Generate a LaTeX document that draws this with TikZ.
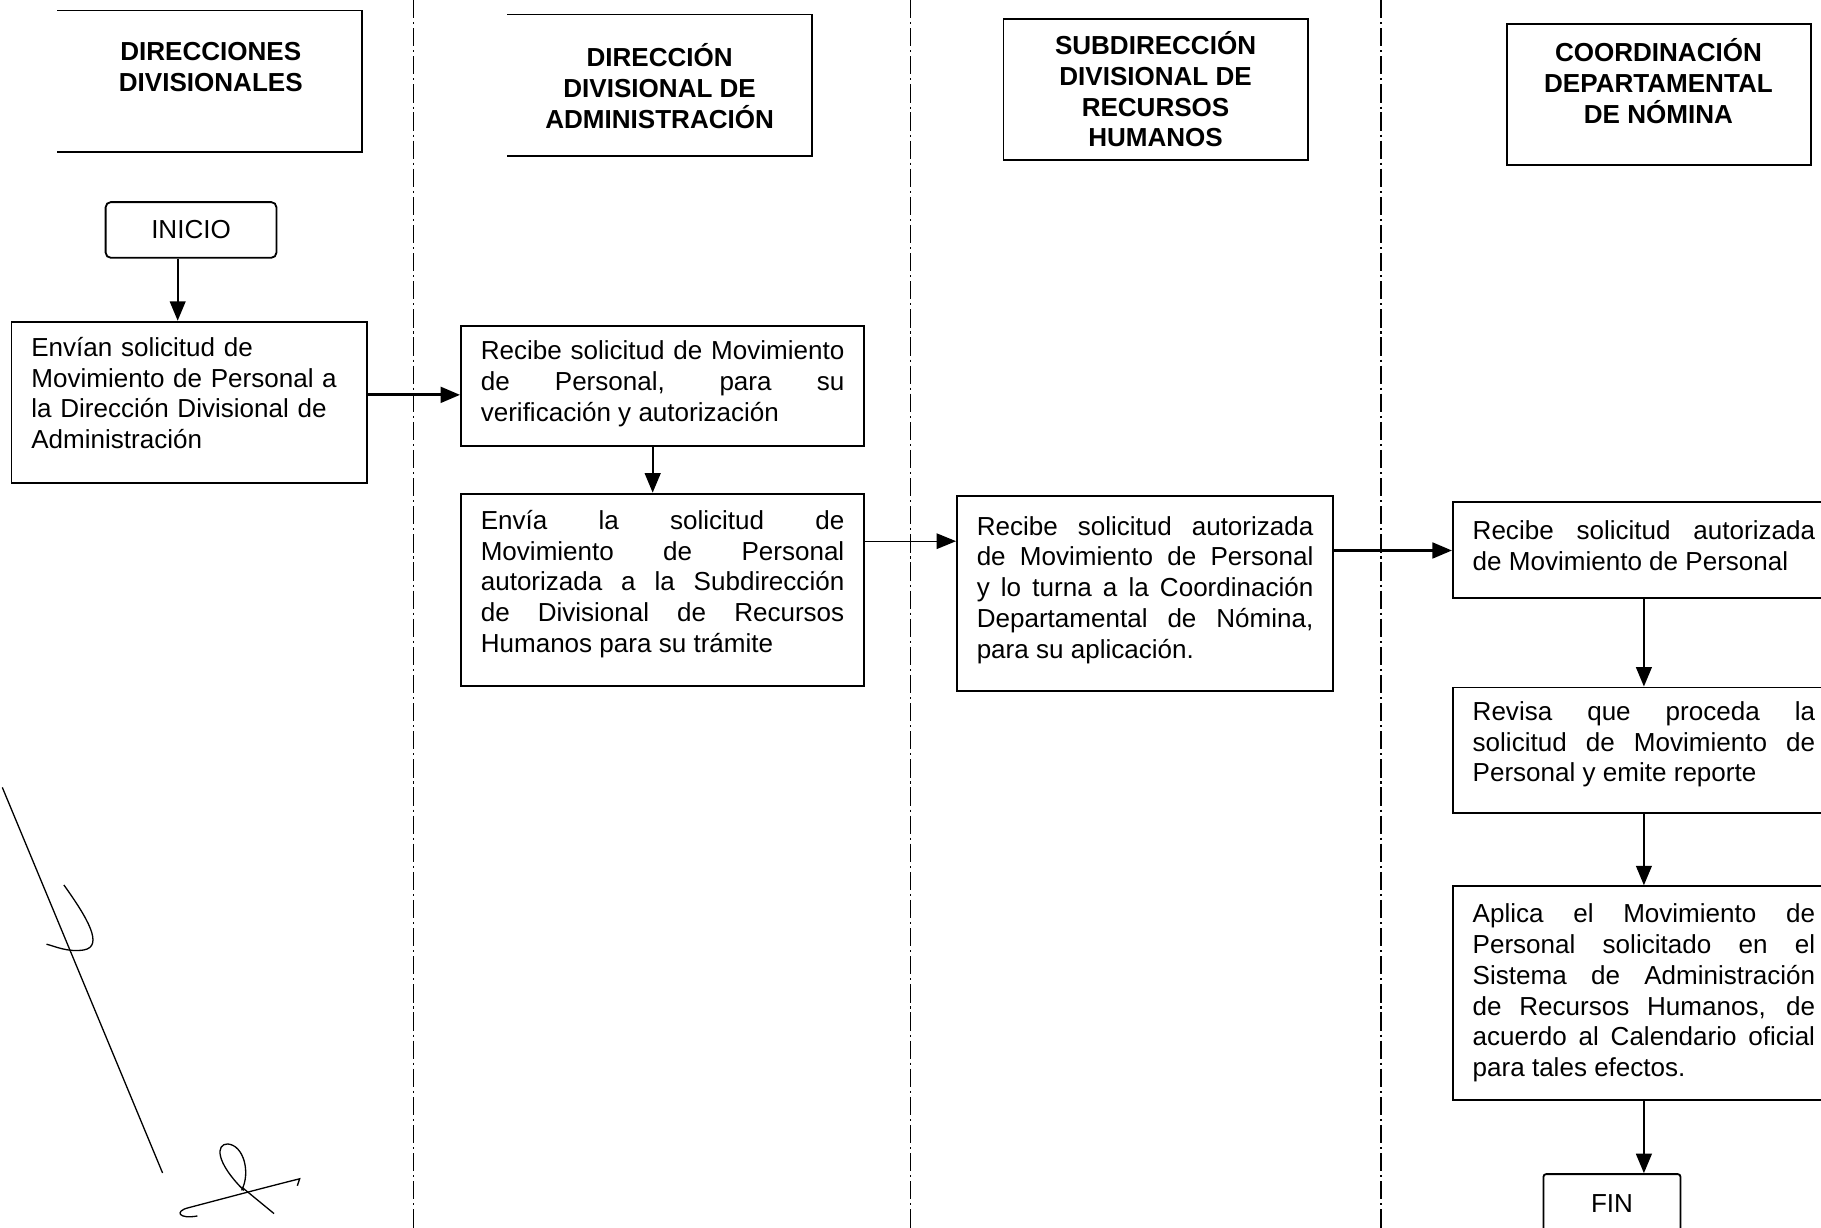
\documentclass[tikz,border=0pt]{standalone}
\usepackage{fontspec}
\setmainfont{Liberation Sans}
\usetikzlibrary{arrows.meta}
\newcommand\bajo[1]{\rule[-#1]{0pt}{0pt}}

\begin{document}
\begin{tikzpicture}[x=0.446pt, y=-0.446pt,
	every node/.style={font=\fontsize{10}{11.8}\selectfont, inner sep=0pt},
	cab/.style={minimum width=116.8pt, minimum height=54pt},
	cabtxt/.style={font=\fontsize{10}{11.8}\selectfont\bfseries, align=center},
	paso/.style={draw, line width=0.7pt, inner xsep=7.6pt, align=justify},
	term/.style={draw, line width=0.7pt, rounded corners=2pt},
	flecha/.style={-{Triangle[length=7.5pt,width=6pt]}, line width=0.9pt},
	carril/.style={line width=0.5pt, dash pattern=on 7pt off 1.5pt on 0.8pt off 1.5pt},
	firma/.style={line width=0.5pt}]
\useasboundingbox (0,0) rectangle (1568,1057);
\clip (0,0) rectangle (1568,1057);
% carriles
\foreach \x in {356, 784, 1189}
	\draw[carril] (\x,0) -- (\x,1057);
% cabeceras
\node[cab] (h1) at (180.5,70) {};
\node[cab] (h2) at (568,73.5) {};
\node[cab, draw, line width=0.7pt] (h3) at (995,77) {};
\node[cab, draw, line width=0.7pt] (h4) at (1428.5,81.5) {};
\foreach \h in {h1, h2}
	\draw[line width=0.7pt] (\h.north west) -- (\h.north east) -- (\h.south east) -- (\h.south west);
\node[cabtxt] (t1) at (181.5,57.5) {DIRECCIONES\\DIVISIONALES};
\node[cabtxt] (t2) at (568,74) {DIRECCIÓN\\DIVISIONAL DE\\ADMINISTRACIÓN};
\node[cabtxt] (t3) at (995,77) {SUBDIRECCIÓN\\DIVISIONAL DE\\RECURSOS\\HUMANOS};
\node[cabtxt] (t4) at (1428,70) {COORDINACIÓN\\DEPARTAMENTAL\\DE NÓMINA};
% pasos
\node[term, minimum width=65.6pt, minimum height=21.4pt] (inicio) at (164.5,198) {INICIO};
\node[paso, align=left, text width=121.3pt, minimum height=62pt] (envian) at (163,346.5)
	{Envían solicitud de\\Movimiento de Personal a\\la Dirección Divisional de\\Administración\bajo{7.2pt}};
\node[paso, text width=139.6pt, minimum height=45.9pt] (recibe) at (570.5,332.5)
	{Recibe solicitud de Movimiento\linebreak de Personal, para su\linebreak verificación y autorización\bajo{3.9pt}};
\node[paso, text width=139.6pt, minimum height=74pt] (envia) at (570.5,508)
	{Envía la solicitud de\linebreak Movimiento de Personal\linebreak autorizada a la Subdirección\linebreak de Divisional de Recursos\linebreak Humanos para su trámite\bajo{6.6pt}};
\node[paso, text width=129.3pt, minimum height=74.9pt] (turna) at (986,511)
	{Recibe solicitud autorizada\linebreak de Movimiento de Personal\linebreak y lo turna a la Coordinación\linebreak Departamental de Nómina,\linebreak para su aplicación.\bajo{4.8pt}};
\node[paso, text width=131.5pt, minimum height=37pt] (recnom) at (1415.5,473.5)
	{Recibe solicitud autorizada\linebreak de Movimiento de Personal\bajo{3.6pt}};
\node[paso, text width=131.5pt, minimum height=48.2pt] (revisa) at (1415.5,646)
	{Revisa que proceda la\linebreak solicitud de Movimiento de\linebreak Personal y emite reporte\bajo{6.6pt}};
\node[paso, text width=131.5pt, minimum height=82pt] (aplica) at (1415.5,855)
	{Aplica el Movimiento de\linebreak Personal solicitado en el\linebreak Sistema de Administración\linebreak de Recursos Humanos, de\linebreak acuerdo al Calendario oficial\linebreak para tales efectos.};
\node[term, rounded corners=1pt, minimum width=52.6pt, minimum height=22.3pt] (fin) at (1388,1036) {FIN};
% flechas
\coordinate (x1) at (153,0);
\coordinate (x2) at (562,0);
\coordinate (y1) at (0,340);
\coordinate (y2) at (0,466);
\coordinate (y3) at (0,474);
\draw[flecha] (inicio.south -| x1) -- (envian.north -| x1);
\draw[flecha, line width=1.2pt] (envian.east |- y1) -- (recibe.west |- y1);
\draw[flecha] (recibe.south -| x2) -- (envia.north -| x2);
\draw[flecha, line width=0.5pt] (envia.east |- y2) -- (turna.west |- y2);
\draw[flecha, line width=1.1pt] (turna.east |- y3) -- (recnom.west |- y3);
\draw[flecha] (recnom.south) -- (revisa.north);
\draw[flecha] (revisa.south) -- (aplica.north);
\draw[flecha] (aplica.south) -- (aplica.south |- fin.north);
% firma
\draw[firma] (2,678) -- (140,1010);
\draw[firma] (55,762) .. controls (75,790) and (90,815) .. (72,818) .. controls (58,820) and (48,815) .. (40,813);
\draw[firma] (210,1025) .. controls (185,1000) and (186,985) .. (196,985) .. controls (210,986) and (216,1010) .. (208,1025);
\draw[firma] (162,1040) .. controls (200,1030) and (230,1022) .. (258,1015) -- (256,1021);
\draw[firma] (162,1040) .. controls (150,1043) and (154,1050) .. (170,1047);
\draw[firma] (208,1022) -- (236,1045);
\end{tikzpicture}
\end{document}
